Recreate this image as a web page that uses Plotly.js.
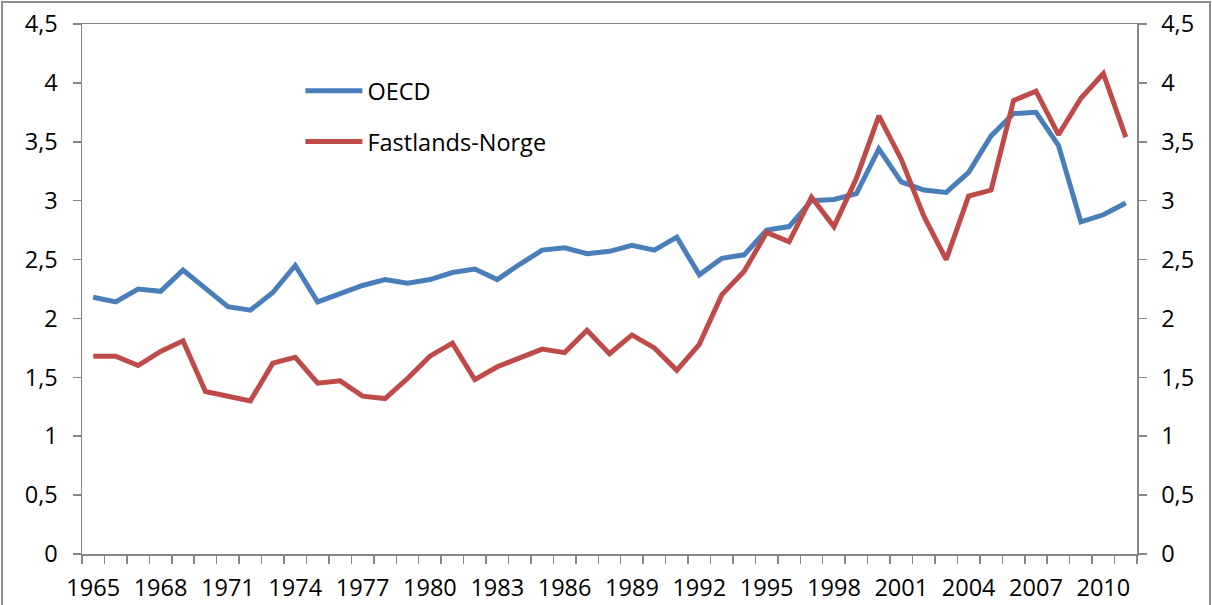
<!DOCTYPE html>
<html>
<head>
<meta charset="utf-8">
<script src="https://cdn.plot.ly/plotly-3.0.1.min.js"></script>
<style>
  html, body { margin: 0; padding: 0; background: #fff; overflow: hidden; }
  #chart { width: 1212px; height: 605px; position: absolute; left: 0; top: 0; }
  #frame { position: absolute; left: 1px; top: 1px; width: 1210px; height: 640px;
           border: 2px solid #8e8e8e; pointer-events: none; box-sizing: border-box; }
</style>
</head>
<body>
<div id="chart"></div>
<div id="frame"></div>
<script>
const years = [1965, 1966, 1967, 1968, 1969, 1970, 1971, 1972, 1973, 1974,
               1975, 1976, 1977, 1978, 1979, 1980, 1981, 1982, 1983, 1984,
               1985, 1986, 1987, 1988, 1989, 1990, 1991, 1992, 1993, 1994,
               1995, 1996, 1997, 1998, 1999, 2000, 2001, 2002, 2003, 2004,
               2005, 2006, 2007, 2008, 2009, 2010, 2011];

const oecd = [2.18, 2.14, 2.25, 2.23, 2.41, 2.25, 2.10, 2.07, 2.22, 2.45,
              2.14, 2.21, 2.28, 2.33, 2.30, 2.33, 2.39, 2.42, 2.33, 2.46,
              2.58, 2.60, 2.55, 2.57, 2.62, 2.58, 2.69, 2.37, 2.51, 2.54,
              2.75, 2.78, 3.00, 3.01, 3.06, 3.44, 3.16, 3.09, 3.07, 3.24,
              3.55, 3.74, 3.75, 3.47, 2.82, 2.88, 2.98];

const fastlandsNorge = [1.68, 1.68, 1.60, 1.72, 1.81, 1.38, 1.34, 1.30, 1.62, 1.67,
                        1.45, 1.47, 1.34, 1.32, 1.49, 1.68, 1.79, 1.48, 1.59, 1.66,
                        1.74, 1.71, 1.90, 1.70, 1.86, 1.75, 1.56, 1.78, 2.20, 2.40,
                        2.73, 2.65, 3.03, 2.78, 3.19, 3.72, 3.35, 2.87, 2.50, 3.04,
                        3.09, 3.85, 3.93, 3.56, 3.87, 4.08, 3.54];

const seriesNames = ['OECD', 'Fastlands-Norge'];
const xTickStart = 1965;
const xTickStep = 3;
const yMax = 4.5;
const yStep = 0.5;

const FONT = { family: 'Open Sans, Liberation Sans, sans-serif', size: 23.5, color: '#000' };
const AXC = '#868686';

const traces = [
  { x: years, y: oecd, name: seriesNames[0], type: 'scatter', mode: 'lines',
    line: { color: '#4A7EBB', width: 5, shape: 'linear' },
    legendgroup: 'a', xaxis: 'x', yaxis: 'y' },
  { x: years, y: fastlandsNorge, name: seriesNames[1], type: 'scatter', mode: 'lines',
    line: { color: '#BE4B48', width: 5, shape: 'linear' },
    legendgroup: 'b', xaxis: 'x', yaxis: 'y2' }
];

const yCommon = {
  range: [0, yMax], tickmode: 'linear', tick0: 0, dtick: yStep,
  ticks: 'outside', ticklen: 8, tickwidth: 1.5, tickcolor: AXC,
  showline: true, linecolor: AXC, linewidth: 1.5,
  showgrid: false, zeroline: false, tickfont: FONT, fixedrange: true,
  ticklabelstandoff: 10
};

const layout = {
  width: 1212, height: 605,
  margin: { l: 82, r: 75, t: 24, b: 51, pad: 0 },
  paper_bgcolor: '#fff', plot_bgcolor: '#fff',
  separators: ', ',
  font: FONT,
  showlegend: true,
  legend: {
    x: 0.207, y: 0.915, xanchor: 'left', yanchor: 'top',
    bgcolor: 'rgba(0,0,0,0)', borderwidth: 0,
    font: FONT, tracegroupgap: 17, itemwidth: 57,
    traceorder: 'grouped'
  },
  xaxis: {
    range: [years[0] - 0.5, years[years.length - 1] + 0.5],
    tickmode: 'linear', tick0: xTickStart, dtick: xTickStep,
    ticks: '', showline: true, linecolor: AXC, linewidth: 1.5, mirror: true,
    showgrid: false, zeroline: false, tickfont: FONT, fixedrange: true,
    ticklabelstandoff: 12,
    minor: { ticks: 'outside', tick0: years[0] - 0.5, dtick: 1, ticklen: 8,
             tickwidth: 1.5, tickcolor: AXC, showgrid: false }
  },
  yaxis: Object.assign({}, yCommon, { side: 'left' }),
  yaxis2: Object.assign({}, yCommon, { side: 'right', overlaying: 'y', anchor: 'x' })
};

Plotly.newPlot('chart', traces, layout, { displayModeBar: false, staticPlot: true });
</script>
</body>
</html>
